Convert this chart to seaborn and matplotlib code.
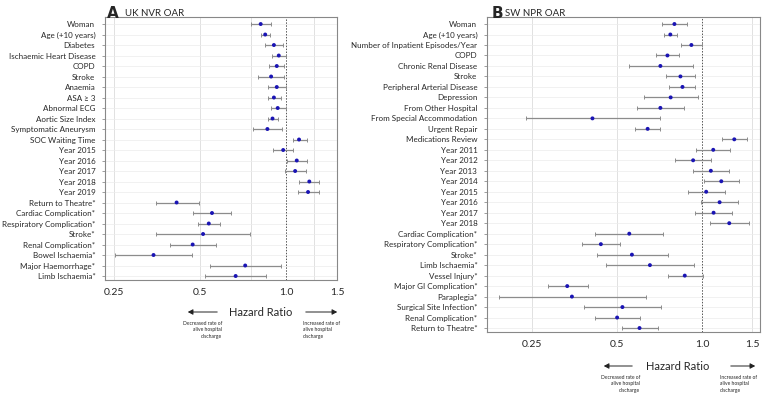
import numpy as np
import pandas as pd
import matplotlib
matplotlib.use("Agg")
import matplotlib.pyplot as plt
import seaborn as sns

# Panel A - UK NVR OAR
uk_labels = ["Woman", "Age (+10 years)", "Diabetes", "Ischaemic Heart Disease", "COPD",
             "Stroke", "Anaemia", "ASA \u2265 3", "Abnormal ECG", "Aortic Size Index",
             "Symptomatic Aneurysm", "SOC Waiting Time", "Year 2015", "Year 2016",
             "Year 2017", "Year 2018", "Year 2019", "Return to Theatre*",
             "Cardiac Complication*", "Respiratory Complication*", "Stroke*",
             "Renal Complication*", "Bowel Ischaemia*", "Major Haemorrhage*",
             "Limb Ischaemia*"]
uk_hr = [0.813, 0.843, 0.904, 0.940, 0.925, 0.884, 0.925, 0.904, 0.932, 0.894, 0.858,
         1.106, 0.974, 1.086, 1.072, 1.201, 1.189, 0.414, 0.550, 0.536, 0.512, 0.471,
         0.344, 0.718, 0.665]
uk_lo = [0.754, 0.815, 0.839, 0.888, 0.870, 0.796, 0.860, 0.860, 0.881, 0.863, 0.766,
         1.050, 0.897, 1.002, 0.989, 1.109, 1.094, 0.350, 0.472, 0.491, 0.351, 0.393,
         0.252, 0.540, 0.520]
uk_hi = [0.884, 0.877, 0.974, 0.995, 0.981, 0.981, 0.995, 0.955, 0.995, 0.932, 0.967,
         1.177, 1.056, 1.182, 1.168, 1.302, 1.302, 0.494, 0.641, 0.587, 0.745, 0.566,
         0.467, 0.957, 0.847]

# Panel B - SW NPR OAR
sw_labels = ["Woman", "Age (+10 years)", "Number of Inpatient Episodes/Year", "COPD",
             "Chronic Renal Disease", "Stroke", "Peripheral Arterial Disease", "Depression",
             "From Other Hospital", "From Special Accommodation", "Urgent Repair",
             "Medications Review", "Year 2011", "Year 2012", "Year 2013", "Year 2014",
             "Year 2015", "Year 2016", "Year 2017", "Year 2018", "Cardiac Complication*",
             "Respiratory Complication*", "Stroke*", "Limb Ischaemia*", "Vessel Injury*",
             "Major GI Complication*", "Paraplegia*", "Surgical Site Infection*",
             "Renal Complication*", "Return to Theatre*"]
sw_hr = [0.798, 0.772, 0.916, 0.754, 0.712, 0.838, 0.852, 0.774, 0.712, 0.410, 0.642,
         1.298, 1.094, 0.929, 1.073, 1.168, 1.033, 1.152, 1.097, 1.246, 0.553, 0.439,
         0.565, 0.654, 0.868, 0.334, 0.347, 0.523, 0.501, 0.601]
sw_lo = [0.723, 0.733, 0.840, 0.688, 0.551, 0.743, 0.764, 0.623, 0.589, 0.238, 0.577,
         1.173, 0.949, 0.802, 0.929, 1.013, 0.889, 0.992, 0.945, 1.064, 0.420, 0.378,
         0.425, 0.458, 0.755, 0.285, 0.192, 0.384, 0.420, 0.521]
sw_hi = [0.882, 0.816, 1.000, 0.831, 0.929, 0.947, 0.945, 0.965, 0.863, 0.710, 0.712,
         1.443, 1.256, 1.076, 1.242, 1.352, 1.202, 1.337, 1.277, 1.462, 0.729, 0.512,
         0.755, 0.937, 1.003, 0.394, 0.633, 0.716, 0.601, 0.696]

sns.set_style("white")
plt.rcParams["font.family"] = ["Lato", "DejaVu Sans"]

fig = plt.figure(figsize=(7.64, 3.98), dpi=100)
ax_a = fig.add_axes([0.1374, 0.2965, 0.3037, 0.6608])
ax_b = fig.add_axes([0.6374, 0.1658, 0.3574, 0.7915])


def forest(ax, labels, hr, lo, hi, xlim, grid_x):
    df = pd.DataFrame({"label": labels, "hr": hr, "lo": lo, "hi": hi})
    df["pos"] = np.arange(len(df))
    ax.set_xscale("log")
    for gx in grid_x:
        ax.axvline(gx, color="#dcdcdc", lw=0.6, zorder=0)
    for p in df["pos"]:
        ax.axhline(p, color="#ececec", lw=0.5, zorder=0)
    ax.axvline(1.0, color="#555555", lw=0.7, ls=(0, (1.5, 1.5)), zorder=1)
    ax.errorbar(df["hr"], df["pos"],
                xerr=[df["hr"] - df["lo"], df["hi"] - df["hr"]],
                fmt="none", ecolor="#8c8c8c", elinewidth=0.9, capsize=1.6,
                capthick=0.7, zorder=2)
    sns.scatterplot(data=df, x="hr", y="pos", ax=ax, color="#1a14b4", s=8,
                    edgecolor="none", zorder=3, legend=False)
    n = len(df)
    ax.set_ylim(n - 1 + 0.38, -0.67)
    ax.set_xlim(*xlim)
    ax.set_yticks(df["pos"])
    ax.set_yticklabels(df["label"], fontsize=5.8)
    ax.set_xticks([0.25, 0.5, 1.0, 1.5])
    ax.set_xticklabels(["0.25", "0.5", "1.0", "1.5"], fontsize=7.5)
    ax.xaxis.set_minor_locator(matplotlib.ticker.NullLocator())
    ax.tick_params(axis="y", length=2, width=0.5, color="#777777", pad=5, left=True)
    ax.tick_params(axis="x", length=0, pad=6)
    ax.set_xlabel("")
    ax.set_ylabel("")
    for s in ax.spines.values():
        s.set_color("#888888")
        s.set_linewidth(0.8)


forest(ax_a, uk_labels, uk_hr, uk_lo, uk_hi, (0.233, 1.5), [0.25, 0.5, 0.75, 1.25])
forest(ax_b, sw_labels, sw_hr, sw_lo, sw_hi, (0.174, 1.6), [0.25, 0.5, 1.5])

# panel titles
fig.text(0.140, 0.985, "A", fontsize=11, fontweight="bold", va="top",
         family=["DejaVu Sans"])
fig.text(0.164, 0.978, "UK NVR OAR", fontsize=7, va="top")
fig.text(0.643, 0.985, "B", fontsize=11, fontweight="bold", va="top",
         family=["DejaVu Sans"])
fig.text(0.661, 0.978, "SW NPR OAR", fontsize=7, va="top")


def footer(cx, y, left_x0, left_x1, right_x0, right_x1, ltext_x, rtext_x):
    fig.text(cx, y, "Hazard Ratio", fontsize=8, ha="center", va="center")
    fig.add_artist(matplotlib.patches.FancyArrowPatch(
        (left_x0, y), (left_x1, y), transform=fig.transFigure,
        arrowstyle="-|>,head_length=3,head_width=1.6", color="#222222", lw=0.7))
    fig.add_artist(matplotlib.patches.FancyArrowPatch(
        (right_x0, y), (right_x1, y), transform=fig.transFigure,
        arrowstyle="-|>,head_length=3,head_width=1.6", color="#222222", lw=0.7))
    fig.text(ltext_x, y - 0.022, "Decreased rate of\nalive hospital\ndischarge",
             fontsize=3.6, ha="right", va="top", linespacing=1.4)
    fig.text(rtext_x, y - 0.022, "Increased rate of\nalive hospital\ndischarge",
             fontsize=3.6, ha="left", va="top", linespacing=1.4)


footer(261 / 764, 1 - 312 / 398, 220 / 764, 185 / 764, 303 / 764, 340 / 764,
       222 / 764, 303 / 764)
footer(678 / 764, 1 - 366 / 398, 635 / 764, 601 / 764, 728 / 764, 758 / 764,
       640 / 764, 720 / 764)

fig.savefig("out.png", dpi=100)
